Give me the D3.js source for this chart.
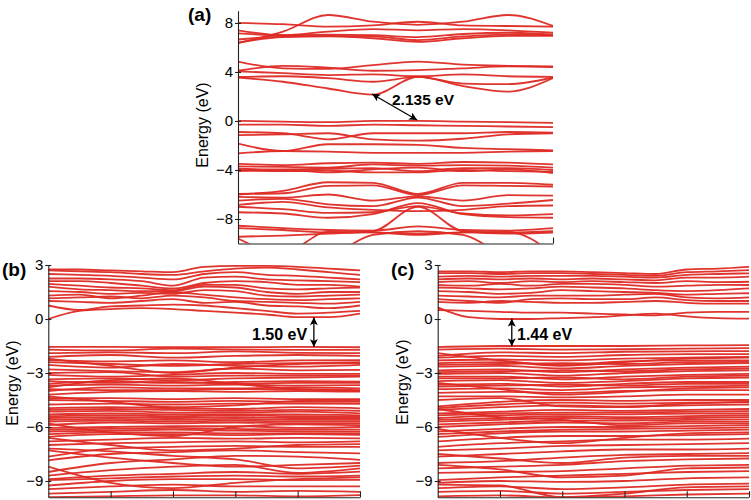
<!DOCTYPE html>
<html><head><meta charset="utf-8">
<script src="https://cdn.jsdelivr.net/npm/d3@7"></script>
<style>
body{margin:0;background:#fff;}
svg{display:block;font-family:"Liberation Sans",Arial,sans-serif;}
</style></head><body>
<svg id="chart" width="751" height="500"></svg>
<script>
// ---------- DATA (band energies in eV, sampled evenly along the k-path) ----------
const bandsA = [
  [6.35, 7.3, 8.65, 8.1, 7.85, 8.1, 8.65, 7.75],
  [8.0, 7.9, 7.7, 7.8, 8.1, 7.8, 7.75, 7.7],
  [7.4, 7.0, 7.3, 7.5, 7.4, 7.5, 7.4, 7.2],
  [7.15, 7.0, 7.05, 7.0, 6.85, 7.1, 7.2, 7.05],
  [6.65, 6.9, 6.95, 6.9, 6.6, 6.9, 7.05, 7.0],
  [6.4, 6.85, 6.9, 6.75, 6.45, 6.75, 6.95, 6.95],
  [4.85, 4.3, 4.25, 4.55, 4.85, 4.6, 4.5, 4.45],
  [4.1, 4.5, 4.35, 4.1, 4.15, 4.3, 4.45, 4.4],
  [4.05, 3.9, 3.75, 3.8, 3.65, 3.8, 3.65, 3.6],
  [3.6, 3.65, 3.5, 3.2, 3.6, 3.05, 3.0, 3.55],
  [3.55, 3.2, 2.65, 2.15, 3.6, 2.85, 2.4, 3.5],
  [0.0, -0.05, -0.1, 0.0, 0.0, -0.05, -0.1, -0.15],
  [-0.3, -0.3, -0.4, -0.3, -0.35, -0.4, -0.45, -0.5],
  [-0.9, -1.0, -1.5, -1.0, -1.0, -1.0, -0.9, -0.95],
  [-1.15, -1.1, -1.0, -1.5, -1.6, -1.45, -1.1, -1.0],
  [-1.85, -2.45, -1.9, -1.9, -1.95, -2.2, -2.3, -2.4],
  [-2.65, -2.45, -2.5, -2.6, -2.6, -2.6, -2.5, -2.45],
  [-3.5, -3.6, -3.45, -3.4, -3.5, -3.35, -3.4, -3.55],
  [-3.7, -3.75, -3.8, -3.55, -3.65, -3.6, -3.65, -3.8],
  [-3.9, -3.95, -3.9, -3.85, -4.1, -3.85, -3.85, -4.0],
  [-4.0, -4.1, -4.05, -4.2, -4.2, -4.0, -4.1, -4.15],
  [-4.1, -4.0, -4.2, -3.95, -3.8, -4.1, -3.95, -4.25],
  [-6.0, -5.7, -5.0, -5.05, -5.95, -5.05, -5.05, -5.2],
  [-5.95, -5.9, -5.3, -5.25, -6.05, -5.25, -5.3, -5.35],
  [-6.2, -6.25, -6.0, -6.5, -6.15, -6.5, -6.05, -6.1],
  [-6.5, -6.35, -6.8, -6.95, -6.25, -6.95, -6.75, -6.45],
  [-6.85, -6.6, -7.05, -7.25, -7.35, -7.25, -6.95, -6.9],
  [-7.0, -7.2, -7.5, -7.45, -6.95, -7.55, -7.7, -7.6],
  [-7.45, -7.55, -7.9, -7.6, -6.7, -7.6, -7.85, -7.9],
  [-8.55, -8.75, -8.9, -8.95, -8.6, -8.9, -8.95, -8.75],
  [-8.75, -8.9, -9.1, -9.1, -9.2, -9.1, -9.1, -9.0],
  [-9.45, -9.35, -9.2, -9.0, -7.0, -9.0, -9.2, -9.1],
  [-9.6, -10.8, -9.05, -9.1, -9.3, -9.1, -9.05, -10.8],
  [-10.8, -10.8, -10.8, -9.3, -9.0, -9.3, -10.8, -10.8]
];

const bandsB = [
  [0.0, 0.45, 0.55, 0.6, 0.55, 0.45, 0.35, 0.25, 0.1, 0.1, 0.3],
  [0.75, 0.5, 0.7, 0.75, 0.8, 0.75, 0.6, 0.45, 0.3, 0.35, 0.45],
  [1.0, 0.95, 0.9, 1.0, 1.1, 0.9, 0.95, 0.75, 0.7, 0.6, 0.75],
  [1.15, 1.2, 1.25, 1.15, 1.3, 1.2, 1.0, 0.95, 0.9, 0.85, 0.95],
  [1.3, 1.35, 1.15, 1.3, 1.5, 1.35, 1.2, 1.1, 1.05, 1.1, 1.15],
  [1.55, 1.5, 1.4, 1.45, 1.4, 1.6, 1.55, 1.3, 1.25, 1.3, 1.35],
  [1.8, 1.65, 1.6, 1.55, 1.55, 1.8, 1.75, 1.5, 1.4, 1.5, 1.5],
  [1.95, 1.85, 1.75, 1.7, 1.6, 1.9, 1.9, 1.7, 1.65, 1.7, 1.75],
  [2.1, 2.1, 2.0, 1.85, 1.7, 2.0, 2.1, 2.05, 1.9, 1.9, 1.8],
  [2.25, 2.25, 2.2, 2.1, 1.85, 2.3, 2.35, 2.2, 2.15, 2.1, 2.05],
  [2.5, 2.45, 2.4, 2.3, 2.2, 2.5, 2.6, 2.45, 2.4, 2.3, 2.2],
  [2.7, 2.65, 2.6, 2.5, 2.45, 2.65, 2.8, 2.85, 2.75, 2.6, 2.45],
  [2.75, 2.75, 2.7, 2.65, 2.6, 2.9, 2.95, 2.95, 2.9, 2.8, 2.7],
  [-1.55, -1.55, -1.57, -1.57, -1.55, -1.57],
  [-1.7, -1.75, -1.65, -1.7, -1.72, -1.72],
  [-1.9, -1.85, -1.9, -1.8, -1.88, -1.9],
  [-2.1, -2.0, -2.15, -2.05, -2.0, -2.05],
  [-2.2, -2.6, -3.0, -2.7, -2.5, -2.45],
  [-2.28, -2.35, -2.3, -2.4, -2.3, -2.28],
  [-2.4, -2.5, -2.6, -2.5, -2.45, -2.4],
  [-2.55, -2.7, -2.5, -2.6, -2.65, -2.55],
  [-2.8, -2.9, -2.95, -2.75, -2.85, -2.83],
  [-3.0, -2.95, -3.2, -3.15, -3.15, -3.15],
  [-3.1, -3.2, -3.1, -3.0, -3.05, -3.05],
  [-3.35, -3.3, -3.4, -3.3, -3.25, -3.2],
  [-3.45, -3.55, -3.5, -3.6, -3.55, -3.55],
  [-3.6, -3.45, -3.55, -3.5, -3.45, -3.48],
  [-3.7, -3.65, -3.7, -3.65, -3.7, -3.67],
  [-3.8, -3.4, -3.3, -3.6, -3.9, -4.0],
  [-3.9, -3.95, -3.95, -3.9, -3.9, -3.95],
  [-4.0, -3.8, -3.85, -3.85, -3.8, -3.85],
  [-4.2, -4.05, -4.0, -4.05, -4.0, -4.04],
  [-4.3, -4.6, -4.9, -4.8, -4.55, -4.5],
  [-4.4, -4.4, -4.45, -4.4, -4.45, -4.45],
  [-4.5, -4.55, -4.6, -4.55, -4.6, -4.6],
  [-4.75, -4.7, -4.75, -4.7, -4.7, -4.72],
  [-4.95, -4.9, -4.95, -5.0, -4.9, -4.96],
  [-5.05, -5.0, -5.05, -5.1, -5.05, -5.1],
  [-5.15, -5.1, -5.2, -5.2, -5.15, -5.24],
  [-5.3, -5.25, -5.3, -5.3, -5.3, -5.35],
  [-5.4, -5.35, -5.4, -5.35, -5.4, -5.43],
  [-5.5, -5.45, -5.5, -5.45, -5.5, -5.5],
  [-5.6, -5.55, -5.6, -5.55, -5.6, -5.6],
  [-5.7, -5.65, -5.7, -5.65, -5.7, -5.7],
  [-5.8, -6.3, -6.5, -6.0, -5.85, -5.9],
  [-5.9, -5.75, -5.8, -5.75, -5.8, -5.8],
  [-6.05, -6.0, -5.95, -5.95, -6.05, -6.0],
  [-6.15, -6.1, -6.05, -6.1, -6.15, -6.15],
  [-6.25, -6.2, -6.15, -6.2, -6.25, -6.26],
  [-6.4, -6.3, -6.3, -6.35, -6.35, -6.35],
  [-6.55, -6.4, -6.4, -6.45, -6.4, -6.44],
  [-6.6, -7.0, -7.3, -7.2, -7.0, -6.95],
  [-6.8, -6.7, -6.6, -6.65, -6.6, -6.63],
  [-7.0, -6.9, -6.85, -6.8, -6.85, -6.8],
  [-7.2, -7.35, -7.6, -7.8, -8.3, -8.15],
  [-7.3, -7.7, -8.0, -8.2, -8.1, -8.0],
  [-7.65, -7.2, -7.1, -7.05, -7.1, -7.1],
  [-7.85, -7.5, -7.4, -7.3, -7.4, -7.46],
  [-8.2, -9.1, -9.4, -9.1, -8.9, -8.8],
  [-8.5, -8.0, -7.8, -7.6, -7.65, -7.83],
  [-8.7, -8.4, -8.2, -8.1, -8.55, -8.3],
  [-8.9, -8.7, -8.6, -8.5, -8.6, -8.48],
  [-8.95, -8.85, -8.75, -8.7, -8.75, -8.7],
  [-9.25, -9.0, -8.9, -8.9, -8.95, -8.94],
  [-9.45, -9.3, -9.2, -9.3, -9.3, -9.3],
  [-9.7, -9.6, -9.5, -9.6, -9.55, -9.6],
  [-9.9, -9.85, -9.8, -9.8, -9.85, -9.78]
];

const bandsC = [
  [0.65, 0.1, 0.0, 0.0, 0.05, 0.1, 0.2, 0.3, 0.15, 0.05, 0.02],
  [0.5, 0.45, 0.4, 0.35, 0.35, 0.3, 0.25, 0.2, 0.35, 0.4, 0.4],
  [0.95, 0.9, 1.0, 0.95, 0.9, 0.9, 0.95, 1.0, 0.9, 0.85, 0.85],
  [1.1, 1.0, 0.9, 1.1, 1.15, 1.1, 1.1, 1.2, 1.05, 1.0, 1.0],
  [1.3, 1.25, 1.2, 1.3, 1.3, 1.3, 1.35, 1.4, 1.2, 1.15, 1.2],
  [1.55, 1.5, 1.4, 1.45, 1.6, 1.55, 1.5, 1.45, 1.35, 1.4, 1.43],
  [1.75, 1.7, 1.65, 1.7, 1.8, 1.75, 1.7, 1.6, 1.55, 1.6, 1.7],
  [1.9, 1.85, 1.95, 1.85, 1.95, 1.95, 1.9, 1.8, 1.85, 1.9, 1.89],
  [2.05, 2.1, 2.0, 2.1, 2.05, 2.1, 2.05, 2.0, 2.1, 2.05, 2.07],
  [2.2, 2.25, 2.2, 2.25, 2.2, 2.25, 2.2, 2.15, 2.3, 2.3, 2.35],
  [2.35, 2.4, 2.35, 2.4, 2.4, 2.4, 2.35, 2.3, 2.45, 2.5, 2.54],
  [2.55, 2.55, 2.5, 2.55, 2.55, 2.5, 2.45, 2.4, 2.6, 2.65, 2.72],
  [2.65, 2.65, 2.6, 2.65, 2.65, 2.6, 2.55, 2.5, 2.75, 2.8, 2.9],
  [-1.56, -1.5, -1.5, -1.5, -1.47, -1.45],
  [-1.7, -1.65, -1.7, -1.68, -1.65, -1.62],
  [-1.9, -2.3, -2.6, -2.4, -2.2, -2.15],
  [-2.05, -1.85, -1.9, -1.82, -1.8, -1.78],
  [-2.15, -2.05, -2.1, -2.0, -1.95, -1.95],
  [-2.3, -2.25, -2.3, -2.2, -2.15, -2.1],
  [-2.45, -2.4, -2.55, -2.35, -2.3, -2.3],
  [-2.55, -2.5, -2.45, -2.5, -2.4, -2.38],
  [-2.65, -2.6, -2.75, -2.6, -2.5, -2.45],
  [-2.85, -2.8, -2.95, -2.8, -2.7, -2.65],
  [-2.95, -2.9, -2.85, -2.9, -2.8, -2.75],
  [-3.05, -3.0, -3.15, -3.0, -2.9, -2.85],
  [-3.2, -3.2, -3.35, -3.2, -3.1, -3.05],
  [-3.3, -3.3, -3.25, -3.35, -3.2, -3.15],
  [-3.45, -3.4, -3.55, -3.45, -3.3, -3.25],
  [-3.55, -3.9, -4.2, -4.05, -3.85, -3.8],
  [-3.65, -3.6, -3.75, -3.6, -3.5, -3.5],
  [-3.75, -3.7, -3.65, -3.7, -3.6, -3.6],
  [-3.9, -3.85, -3.95, -3.8, -3.75, -3.7],
  [-4.1, -4.05, -4.1, -4.0, -3.95, -3.95],
  [-4.3, -4.3, -4.35, -4.3, -4.2, -4.2],
  [-4.5, -4.4, -4.85, -4.9, -4.7, -4.6],
  [-4.85, -4.6, -4.5, -4.55, -4.5, -4.5],
  [-4.95, -4.75, -4.65, -4.7, -4.65, -4.62],
  [-5.0, -5.45, -5.6, -5.9, -5.8, -5.8],
  [-5.05, -4.9, -4.8, -4.85, -4.8, -4.75],
  [-5.25, -5.15, -5.05, -5.1, -5.05, -5.0],
  [-5.35, -5.25, -5.2, -5.2, -5.15, -5.12],
  [-5.5, -5.35, -5.3, -5.3, -5.25, -5.25],
  [-5.6, -5.5, -5.4, -5.45, -5.4, -5.35],
  [-5.7, -5.6, -5.5, -5.55, -5.5, -5.45],
  [-5.85, -5.75, -5.65, -5.65, -5.6, -5.58],
  [-6.0, -5.85, -5.75, -5.8, -5.7, -5.7],
  [-6.1, -6.6, -6.9, -6.6, -6.35, -6.3],
  [-6.25, -6.1, -6.0, -6.0, -5.95, -5.9],
  [-6.4, -6.25, -6.15, -6.1, -6.08, -6.02],
  [-6.55, -6.35, -6.25, -6.25, -6.2, -6.15],
  [-6.8, -6.6, -6.5, -6.5, -6.45, -6.4],
  [-7.1, -6.9, -6.8, -6.7, -6.7, -6.65],
  [-7.3, -7.2, -7.05, -7.0, -6.95, -6.9],
  [-7.5, -7.75, -8.0, -7.7, -7.6, -7.6],
  [-7.65, -7.5, -7.35, -7.25, -7.25, -7.2],
  [-8.0, -7.9, -7.7, -7.55, -7.5, -7.45],
  [-8.1, -8.35, -8.8, -8.7, -8.3, -8.25],
  [-8.3, -8.2, -8.1, -7.9, -7.8, -7.75],
  [-8.55, -8.5, -8.45, -8.3, -8.15, -8.1],
  [-8.95, -8.8, -8.7, -8.6, -8.5, -8.45],
  [-9.1, -9.0, -9.05, -9.0, -8.85, -8.8],
  [-9.2, -9.25, -9.9, -9.7, -9.35, -9.3],
  [-9.4, -9.3, -9.45, -9.35, -9.2, -9.15],
  [-9.6, -9.55, -9.7, -9.6, -9.5, -9.45],
  [-9.85, -9.8, -9.9, -9.85, -9.75, -9.7]
];

const ticksA = [8, 4, 0, -4, -8];
const ticksBC = [3, 0, -3, -6, -9];
const kTicksA = [7];
const kTicksBC = [1, 2, 3, 4, 5];
const panelLabels = ["(a)", "(b)", "(c)"];
const gapLabels = ["2.135 eV", "1.50 eV", "1.44 eV"];
const yTitle = "Energy (eV)";

// ---------- DRAWING ----------
const svg = d3.select("#chart");
const BAND = "#de2a24";
const defs = svg.append("defs");
defs.append("marker").attr("id", "ah")
  .attr("viewBox", "0 0 10 10").attr("refX", 10).attr("refY", 5)
  .attr("markerUnits", "userSpaceOnUse")
  .attr("markerWidth", 9).attr("markerHeight", 8)
  .attr("orient", "auto-start-reverse")
  .append("path").attr("d", "M0,0 L10,5 L0,10 L2.5,5 Z").attr("fill", "#000");

const fmt = d => d < 0 ? "\u2212" + Math.abs(d) : String(d);

function panel(cfg, idx) {
  const x = d3.scaleLinear().domain([0, cfg.kMax]).range([cfg.x0, cfg.x1]);
  const y = d3.scaleLinear().domain(cfg.yDom).range([cfg.y1, cfg.y0]);
  const g = svg.append("g");
  const cid = "clip" + idx;
  defs.append("clipPath").attr("id", cid).append("rect")
    .attr("x", cfg.x0).attr("y", cfg.y0)
    .attr("width", cfg.x1 - cfg.x0).attr("height", cfg.y1 - cfg.y0);
  const line = d3.line()
    .x((d, i, arr) => x(i * cfg.kMax / (arr.length - 1)))
    .y(d => y(d))
    .curve(d3.curveMonotoneX);
  g.append("g").attr("clip-path", `url(#${cid})`)
    .selectAll("path").data(cfg.bands).join("path")
    .attr("d", d => line(d))
    .attr("fill", "none").attr("stroke", BAND)
    .attr("stroke-width", 1.8).attr("stroke-opacity", 0.95);

  // left axis
  const ya = g.append("g").attr("transform", `translate(${cfg.x0},0)`)
    .call(d3.axisLeft(y).tickValues(cfg.yTicks).tickFormat(fmt).tickSize(0).tickPadding(5));
  ya.select(".domain").attr("stroke", "#222").attr("stroke-width", 1.1);
  ya.selectAll(".tick line").remove();
  ya.selectAll(".tick").append("line").attr("x1", -3).attr("x2", 3).attr("stroke", "#222").attr("stroke-width", 1.1);
  ya.selectAll(".tick text").attr("font-size", 15).attr("fill", "#000")
    .attr("font-family", '"Liberation Sans", Arial, sans-serif');

  // bottom axis
  const xa = g.append("g").attr("transform", `translate(0,${cfg.y1})`)
    .call(d3.axisBottom(x).tickValues(cfg.kTicks).tickFormat("").tickSizeInner(-6).tickSizeOuter(0));
  xa.select(".domain").attr("stroke", "#222").attr("stroke-width", 1.1);
  xa.selectAll(".tick line").attr("stroke", "#222").attr("stroke-width", 1.1);

  // y title
  svg.append("text").attr("transform", `translate(${cfg.titleX},${cfg.titleY}) rotate(-90)`)
    .attr("text-anchor", "middle").attr("font-size", 16).text(yTitle);
  // panel label
  svg.append("text").attr("x", cfg.labX).attr("y", cfg.labY)
    .attr("font-size", 19).attr("font-weight", "bold").text(panelLabels[idx]);

  // gap arrow
  svg.append("line")
    .attr("x1", x(cfg.arrow[0][0])).attr("y1", y(cfg.arrow[0][1]))
    .attr("x2", x(cfg.arrow[1][0])).attr("y2", y(cfg.arrow[1][1]))
    .attr("stroke", "#000").attr("stroke-width", 1.3)
    .attr("marker-start", "url(#ah)").attr("marker-end", "url(#ah)");
  svg.append("text").attr("x", cfg.gapX).attr("y", cfg.gapY)
    .attr("font-size", cfg.gapSize).attr("font-weight", "bold").text(gapLabels[idx]);
}

panel({bands: bandsA, kMax: 7, x0: 238, x1: 553, y0: 10.7, y1: 243.5, yDom: [-10, 9],
  yTicks: ticksA, kTicks: kTicksA, titleX: 208, titleY: 125, labX: 188, labY: 21,
  arrow: [[2.98, 2.2], [3.98, 0.08]], gapX: 392, gapY: 105, gapSize: 15.5}, 0);
panel({bands: bandsB, kMax: 5, x0: 48.3, x1: 360, y0: 265, y1: 497.2, yDom: [-9.9, 3],
  yTicks: ticksBC, kTicks: kTicksBC, titleX: 18, titleY: 383, labX: 2, labY: 276,
  arrow: [[4.26, 0.1], [4.26, -1.56]], gapX: 252, gapY: 340, gapSize: 16}, 1);
panel({bands: bandsC, kMax: 5, x0: 437.7, x1: 749, y0: 265, y1: 497.2, yDom: [-9.9, 3],
  yTicks: ticksBC, kTicks: kTicksBC, titleX: 408, titleY: 382, labX: 391, labY: 276,
  arrow: [[1.19, 0.02], [1.19, -1.52]], gapX: 517, gapY: 340, gapSize: 16}, 2);
</script>
</body></html>
